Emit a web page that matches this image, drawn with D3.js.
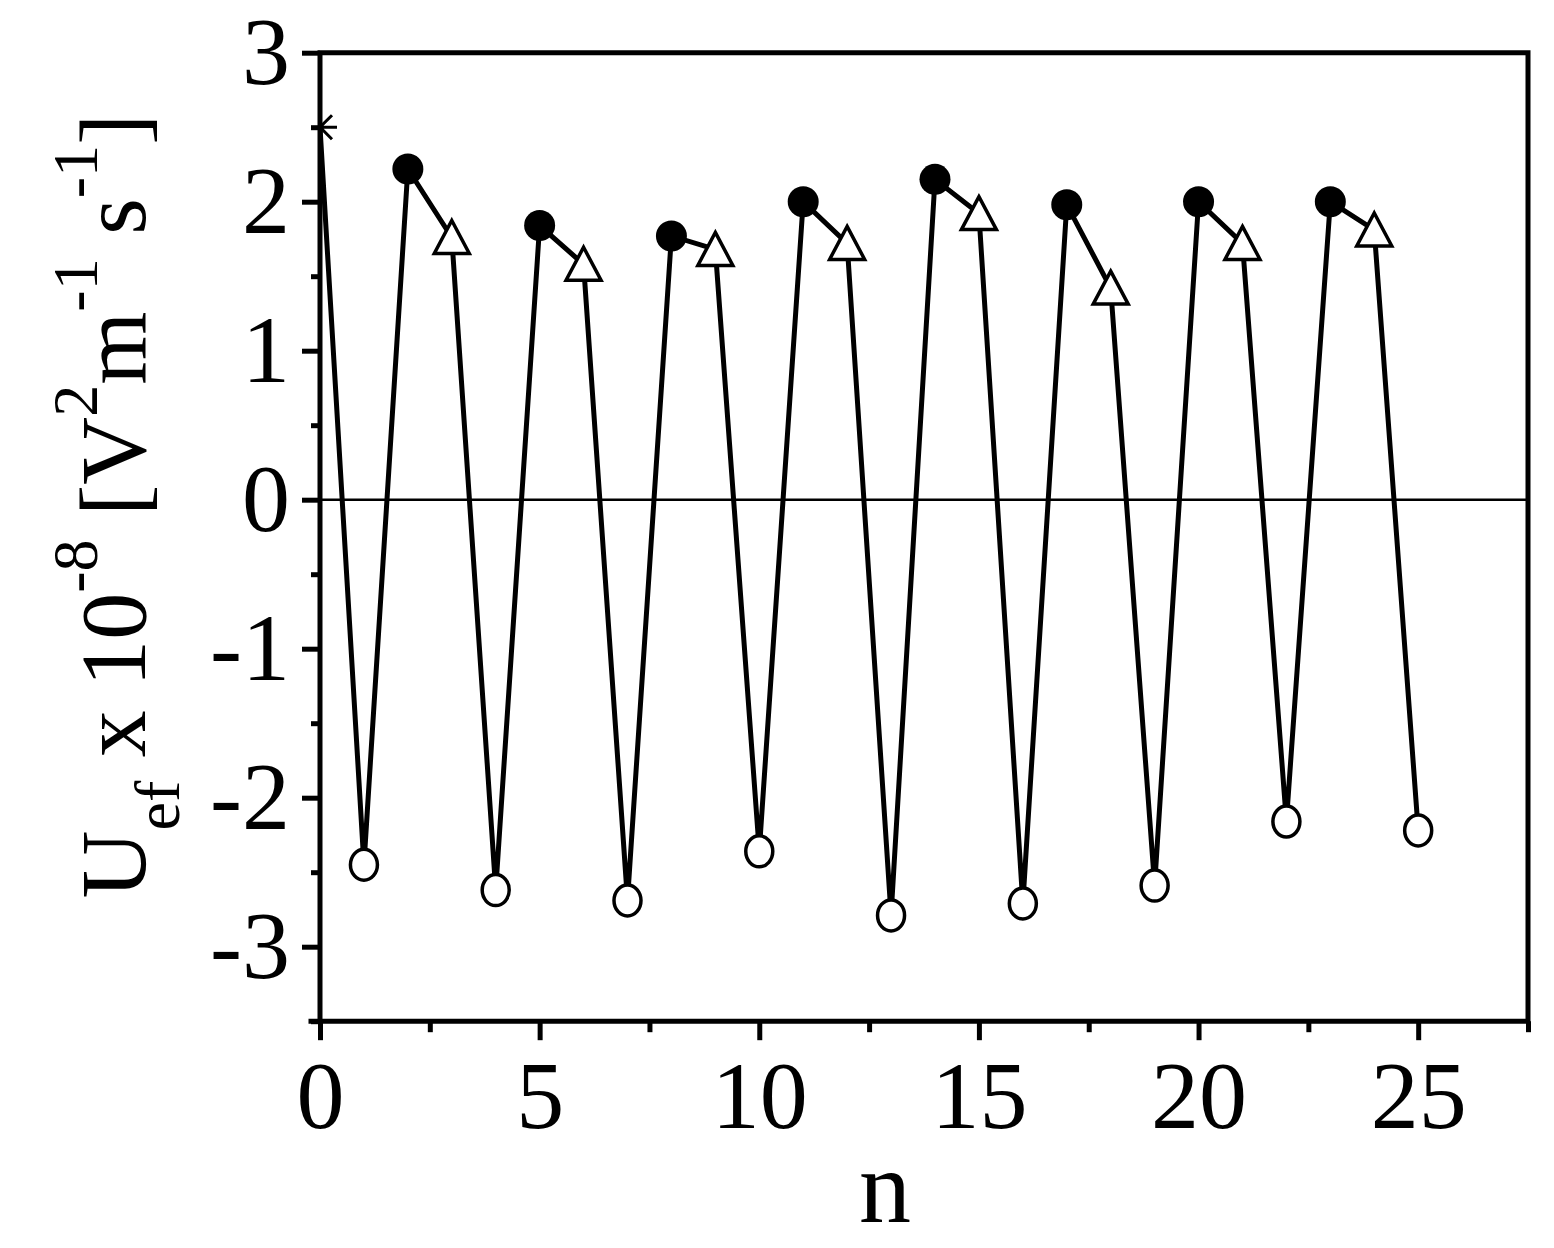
<!DOCTYPE html>
<meta charset="utf-8">
<script src="https://d3js.org/d3.v7.min.js"></script>
<style>
  body { margin: 0; background: #fff; }
  text { font-family: "Liberation Serif", "Times New Roman", Times, serif; fill: #000; }
</style>
<div id="my_dataviz"></div>
<script>

// data
var nValues = [0, 1, 2, 3, 4, 5, 6, 7, 8, 9, 10, 11, 12, 13, 14, 15, 16, 17, 18, 19, 20, 21, 22, 23, 24, 25];
var uValues = [2.5, -2.45, 2.22, 1.76, -2.62, 1.84, 1.58, -2.69, 1.77, 1.68, -2.36, 2.0, 1.72, -2.79,
               2.15, 1.92, -2.71, 1.98, 1.42, -2.59, 2.0, 1.72, -2.16, 2.0, 1.81, -2.22];
var markerType = ["star", "open", "filled", "triangle", "open", "filled", "triangle", "open", "filled",
                  "triangle", "open", "filled", "triangle", "open", "filled", "triangle", "open", "filled",
                  "triangle", "open", "filled", "triangle", "open", "filled", "triangle", "open"];
var xTicks = [0, 5, 10, 15, 20, 25];
var xMinor = [2.5, 7.5, 12.5, 17.5, 22.5, 27.5];
var yTicks = [-3, -2, -1, 0, 1, 2, 3];
var yMinor = [-3.5, -2.5, -1.5, -0.5, 0.5, 1.5, 2.5];

var data = nValues.map(function(n, i) { return {n: n, u: uValues[i], m: markerType[i]}; });

var W = 1554, H = 1248;
var x0 = 320, x1 = 1528, yTop = 52.7, yBot = 1021.2;
var serif = "'Liberation Serif', 'Times New Roman', serif";

var svg = d3.select("#my_dataviz")
  .append("svg")
    .attr("width", W)
    .attr("height", H);

var x = d3.scaleLinear().domain([0, 27.5]).range([x0, x1]);
var y = d3.scaleLinear().domain([-3.5, 3]).range([yBot, yTop]);

svg.append("clipPath").attr("id", "plotclip")
  .append("rect")
    .attr("x", x0).attr("y", yTop)
    .attr("width", x1 - x0).attr("height", yBot - yTop);

// zero line
svg.append("line")
  .attr("x1", x0).attr("x2", x1)
  .attr("y1", y(0)).attr("y2", y(0))
  .attr("stroke", "#000").attr("stroke-width", 2.5);

// plain hyphen like the original, not the unicode minus
var fmt = function(d) { return String(d); };

function styleAxis(g) {
  g.attr("font-family", serif);
  g.select(".domain").remove();
  g.selectAll(".tick line").attr("stroke", "#000").attr("stroke-width", 5);
  g.selectAll(".tick text").style("font-size", "96px");
}

svg.append("g")
  .attr("transform", "translate(0," + yBot + ")")
  .call(d3.axisBottom(x).tickValues(xTicks).tickSize(19).tickPadding(20).tickFormat(fmt))
  .call(styleAxis)
  .selectAll(".tick text").attr("dy", "0.71em");

svg.append("g")
  .attr("transform", "translate(0," + yBot + ")")
  .call(d3.axisBottom(x).tickValues(xMinor).tickSize(11).tickFormat(""))
  .call(styleAxis);

svg.append("g")
  .attr("transform", "translate(" + x0 + ",0)")
  .call(d3.axisLeft(y).tickValues(yTicks).tickSize(18).tickPadding(12).tickFormat(fmt))
  .call(styleAxis)
  .selectAll(".tick text").attr("dy", "0.32em");

svg.append("g")
  .attr("transform", "translate(" + x0 + ",0)")
  .call(d3.axisLeft(y).tickValues(yMinor).tickSize(9).tickFormat(""))
  .call(styleAxis);

// frame
svg.append("path")
  .attr("d", "M" + x0 + "," + yBot + "V" + yTop + "H" + x1 + "V" + yBot + "H" + (x0 - 9))
  .attr("fill", "none")
  .attr("stroke", "#000")
  .attr("stroke-width", 5)
  .attr("stroke-linecap", "square");

// data line
var plot = svg.append("g").attr("clip-path", "url(#plotclip)");

plot.append("path")
  .datum(data)
  .attr("fill", "none")
  .attr("stroke", "#000")
  .attr("stroke-width", 5)
  .attr("stroke-linejoin", "miter")
  .attr("d", d3.line().x(function(d) { return x(d.n); }).y(function(d) { return y(d.u); }));

// markers
var pts = plot.selectAll(".pt")
  .data(data)
  .enter()
  .append("g")
    .attr("class", "pt")
    .attr("transform", function(d) { return "translate(" + x(d.n) + "," + y(d.u) + ")"; });

pts.filter(function(d) { return d.m === "filled"; })
  .append("circle")
    .attr("r", 15.5)
    .attr("fill", "#000");

pts.filter(function(d) { return d.m === "open"; })
  .append("ellipse")
    .attr("rx", 13.5).attr("ry", 15.5)
    .attr("fill", "#fff")
    .attr("stroke", "#000")
    .attr("stroke-width", 3.5);

pts.filter(function(d) { return d.m === "triangle"; })
  .append("path")
    .attr("d", "M0,-17L17.5,16L-17.5,16Z")
    .attr("fill", "#fff")
    .attr("stroke", "#000")
    .attr("stroke-width", 3.5)
    .attr("stroke-linejoin", "miter");

pts.filter(function(d) { return d.m === "star"; })
  .append("path")
    .attr("d", "M-17,0H17M-12,-12L12,12M-12,12L12,-12")
    .attr("stroke", "#000")
    .attr("stroke-width", 3);

// axis titles
svg.append("text")
  .attr("x", 885)
  .attr("y", 1222)
  .attr("text-anchor", "middle")
  .attr("font-family", serif)
  .style("font-size", "104px")
  .text("n");

var yt = svg.append("text")
  .attr("transform", "translate(145,506) rotate(-90)")
  .attr("text-anchor", "middle")
  .attr("font-family", serif)
  .style("font-size", "94px");

yt.append("tspan").text("U");
yt.append("tspan").attr("dy", 34).style("font-size", "64px").text("ef");
yt.append("tspan").attr("dy", -34).text(" x 10");
yt.append("tspan").attr("dy", -48).style("font-size", "64px").text("-8");
yt.append("tspan").attr("dy", 48).text(" [V");
yt.append("tspan").attr("dy", -48).style("font-size", "64px").text("2");
yt.append("tspan").attr("dy", 48).text("m");
yt.append("tspan").attr("dy", -48).style("font-size", "64px").text("-1");
yt.append("tspan").attr("dy", 48).text(" s");
yt.append("tspan").attr("dy", -48).style("font-size", "64px").text("-1");
yt.append("tspan").attr("dy", 48).text("]");

</script>
